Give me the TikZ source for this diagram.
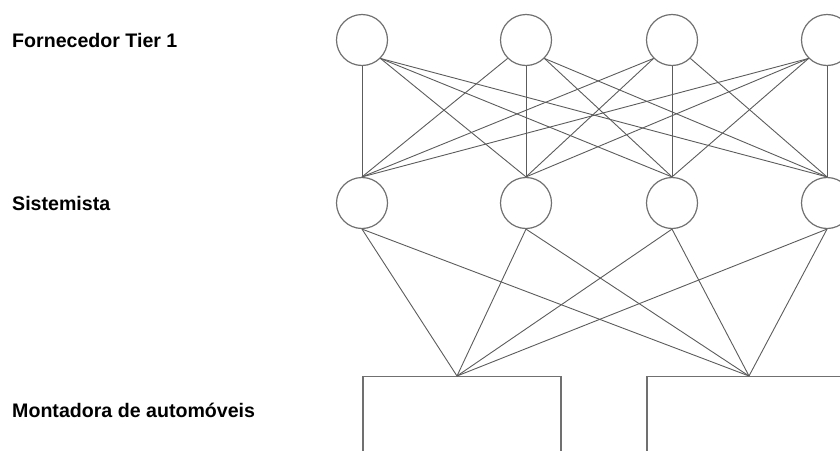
\documentclass[tikz,border=0pt]{standalone}
\usepackage{fontspec}
\setmainfont{Liberation Sans}
\usetikzlibrary{positioning}
\definecolor{edge}{HTML}{5C5C5C}
\definecolor{rim}{HTML}{707070}

\begin{document}
\begin{tikzpicture}[x=1pt,y=-1pt,font={\bfseries\fontsize{19.6}{23}\selectfont},
  tier/.style={anchor=west,inner sep=0pt},
  firm/.style={circle,draw=rim,line width=1.2pt,minimum size=51pt,inner sep=0pt},
  plant/.style={rectangle,draw=rim,line width=1.2pt,minimum width=198pt,minimum height=150pt,anchor=north,inner sep=0pt},
  link/.style={draw=edge,line width=0.9pt}]
\useasboundingbox (0,0) rectangle (840,450);
\clip (0,0) rectangle (840,450);
\node[tier] (l1) at (12,40) {Fornecedor Tier 1};
\node[tier] (l2) at (12,203) {Sistemista};
\node[tier] (l3) at (12,410) {Montadora de automóveis};
% fornecedores e sistemistas
\foreach \n/\x in {1/362,2/526,3/672,4/827}{
  \node[firm] (t\n) at (\x,40) {};
  \node[firm] (s\n) at (\x,203) {};
}
% montadoras
\node[plant] (m1) at (462,376) {};
\node[plant] (m2) at (746,376) {};
\coordinate (p1) at ([xshift=-5pt]m1.north);
\coordinate (p2) at ([xshift=3pt]m2.north);
\foreach \i in {1,...,4}
  \foreach \j in {1,...,4}{
    \pgfmathtruncatemacro{\ang}{-90+45*sign(\j-\i)}
    \draw[link] (t\i.\ang) -- (s\j.north);
  }
\foreach \j in {1,...,4}
  \foreach \k in {1,2}
    \draw[link] (s\j.south) -- (p\k);
\end{tikzpicture}
\end{document}
